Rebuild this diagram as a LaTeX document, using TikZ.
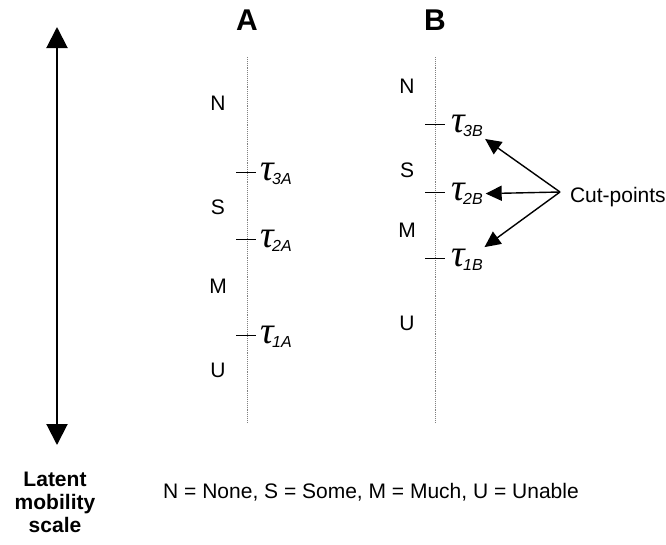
\documentclass[tikz,border=0pt]{standalone}
\usepackage{fontspec}
\setmainfont{Liberation Sans}
\newfontfamily\taufont{Liberation Serif}
\usetikzlibrary{arrows.meta}

\newcommand{\taulbl}[1]{{\fontsize{38}{38}\taufont\itshape τ}\kern-1.5pt\raisebox{-4pt}{\fontsize{16}{16}\selectfont\itshape #1}}

\begin{document}
\begin{tikzpicture}[x=1pt,y=-1pt,
  every node/.style={inner sep=0pt, outer sep=0pt, font=\fontsize{21}{25}\selectfont},
  scaleline/.style={densely dotted, gray, line width=0.9pt},
  cutmark/.style={black, line width=0.8pt},
  taunode/.style={anchor=west, inner sep=1pt},
  cutarrow/.style={-{Triangle[length=16pt,width=15pt]}, line width=1.4pt, shorten >=2pt},
  bigarrow/.style={{Triangle[length=21pt,width=21pt]}-{Triangle[length=21pt,width=21pt]}, line width=2pt}]
\useasboundingbox (0,0) rectangle (666,544);

% latent scale
\coordinate (top) at (57,27);
\coordinate (bottom) at (57,445);
\draw[bigarrow] (top) -- (bottom);
\node[font=\fontsize{21}{23}\selectfont\bfseries, align=center] (scale) at (55,502) {Latent\\mobility\\scale};

% column A
\node[font=\fontsize{30}{30}\selectfont\bfseries] (colA) at (247,20) {A};
\draw[scaleline] (247,57) -- (247,422);
\node (nA) at (218,103) {N};
\node (sA) at (218,207) {S};
\node (mA) at (218,286) {M};
\node (uA) at (218,370) {U};
\draw[cutmark] (236,172) -- (256,172);
\draw[cutmark] (236,239) -- (256,239);
\draw[cutmark] (236,335) -- (256,335);
\node[taunode] (t3A) at (259,174) {\taulbl{3A}};
\node[taunode] (t2A) at (259,241) {\taulbl{2A}};
\node[taunode] (t1A) at (259,337) {\taulbl{1A}};

% column B
\node[font=\fontsize{30}{30}\selectfont\bfseries] (colB) at (435,20) {B};
\draw[scaleline] (435,57) -- (435,422);
\node (nB) at (407,86) {N};
\node (sB) at (407,170) {S};
\node (mB) at (407,230) {M};
\node (uB) at (407,323) {U};
\draw[cutmark] (425,124) -- (445,124);
\draw[cutmark] (425,192) -- (445,192);
\draw[cutmark] (425,258) -- (445,258);
\node[taunode] (t3B) at (450,126) {\taulbl{3B}};
\node[taunode] (t2B) at (450,194) {\taulbl{2B}};
\node[taunode] (t1B) at (450,260) {\taulbl{1B}};

% cut-points
\node[anchor=west] (cut) at (570,197) {Cut-points};
\coordinate (cp) at (560,192);
\draw[cutarrow] (cp) -- (t3B);
\draw[cutarrow] (cp) -- (t2B);
\draw[cutarrow] (cp) -- (t1B);

% legend
\node (legend) at (371,492) {N = None, S = Some, M = Much, U = Unable};
\end{tikzpicture}
\end{document}
